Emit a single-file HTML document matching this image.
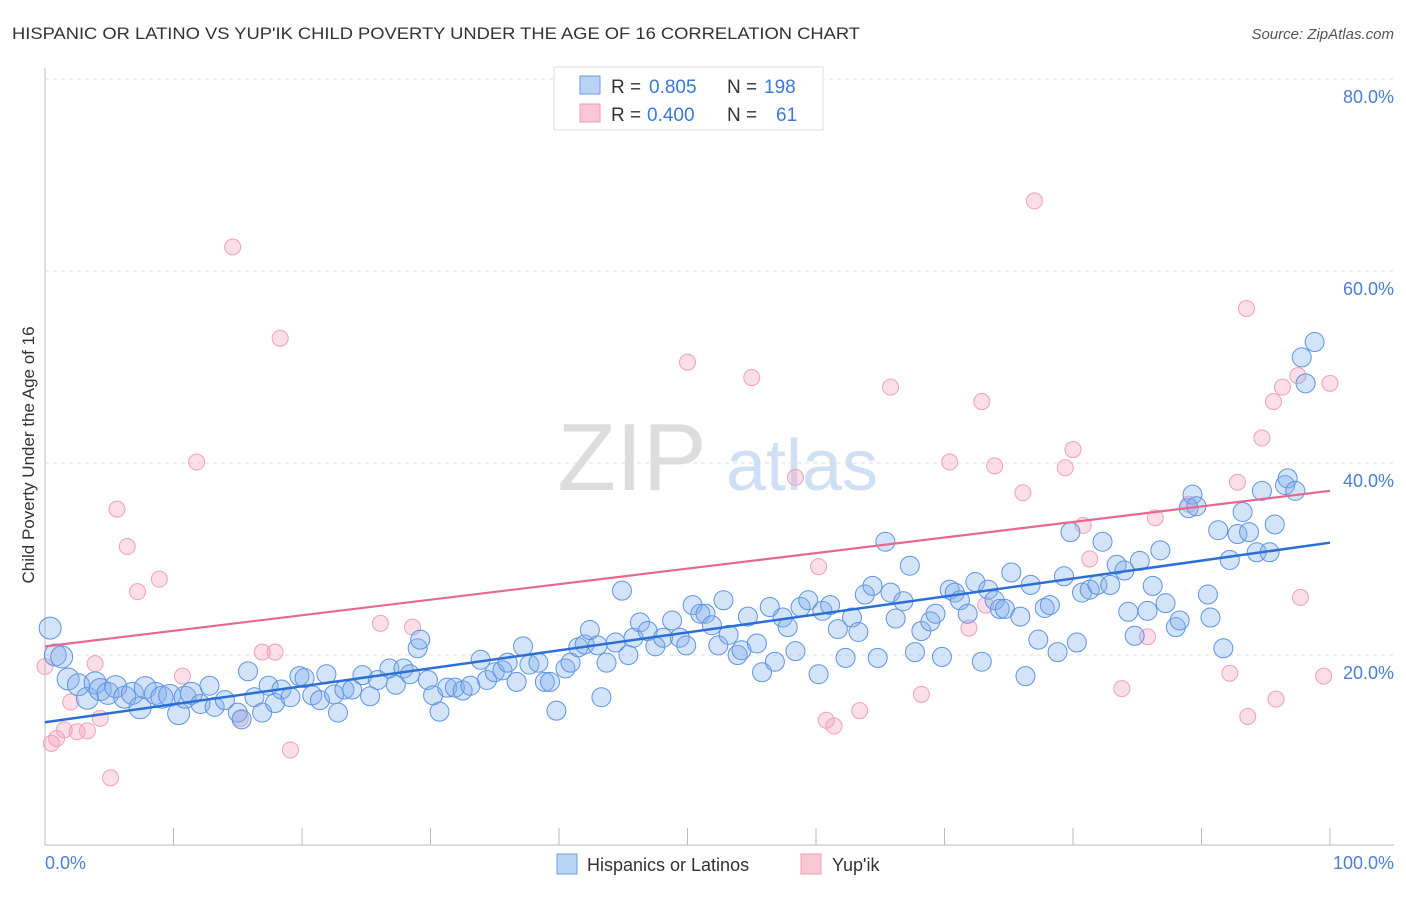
<!DOCTYPE html>
<html><head><meta charset="utf-8"><style>
body{margin:0;background:#fff;font-family:"Liberation Sans",sans-serif}
svg text{font-family:"Liberation Sans",sans-serif}
</style></head><body>
<svg id="chart" width="1406" height="892" viewBox="0 0 1406 892" xmlns="http://www.w3.org/2000/svg">
<text x="12" y="39" font-size="17" fill="#333" textLength="848" lengthAdjust="spacingAndGlyphs">HISPANIC OR LATINO VS YUP'IK CHILD POVERTY UNDER THE AGE OF 16 CORRELATION CHART</text>
<text x="1394" y="39" font-size="15" fill="#555" font-style="italic" text-anchor="end">Source: ZipAtlas.com</text>
<g>
<text x="632" y="490" font-size="96" fill="#ddd" font-family="Liberation Serif" text-anchor="middle">ZIP</text>
<text x="802" y="490" font-size="72" fill="#cfe0f5" text-anchor="middle">atlas</text>
</g>
<g id="grid"></g>
<g id="axes"></g>
<g id="pink-pts"></g>
<g id="blue-pts"></g>
<g id="lines"></g>
<text transform="translate(34,455) rotate(-90)" font-size="17" fill="#333" text-anchor="middle">Child Poverty Under the Age of 16</text>
<text x="45" y="869" font-size="18" fill="#4a7fd8">0.0%</text>
<text x="1394" y="869" font-size="18" fill="#4a7fd8" text-anchor="end">100.0%</text>
<g>
<rect x="554" y="67" width="269" height="63" fill="#fff" stroke="#ddd"/>
<rect x="580" y="76" width="20" height="18" fill="#b9d3f4" stroke="#6b9be0"/>
<rect x="580" y="104" width="20" height="18" fill="#f9c6d4" stroke="#ee9bb4"/>
<text x="611" y="93" font-size="19" fill="#333">R =</text>
<text x="649" y="93" font-size="19" fill="#3a78d6">0.805</text>
<text x="727" y="93" font-size="19" fill="#333">N =</text>
<text x="764" y="93" font-size="19" fill="#3a78d6">198</text>
<text x="611" y="121" font-size="19" fill="#333">R =</text>
<text x="647" y="121" font-size="19" fill="#3a78d6">0.400</text>
<text x="727" y="121" font-size="19" fill="#333">N =</text>
<text x="776" y="121" font-size="19" fill="#3a78d6">61</text>
</g>
<g>
<rect x="557" y="854" width="20" height="20" fill="#b9d3f4" stroke="#6b9be0"/>
<text x="587" y="871" font-size="18" fill="#333">Hispanics or Latinos</text>
<rect x="801" y="854" width="20" height="20" fill="#f9c6d4" stroke="#ee9bb4"/>
<text x="832" y="871" font-size="18" fill="#333">Yup'ik</text>
</g>
</svg>
<script>
const yTicks=[20,40,60,80];
const yTickLabels=["20.0%","40.0%","60.0%","80.0%"];
const xTicks=[0,10,20,30,40,50,60,70,80,90,100];
const blueX=[0.4,0.8,1.3,1.8,2.6,3.3,3.9,4.3,4.9,5.5,6.2,6.8,7.4,7.8,8.6,9.1,9.7,10.4,10.9,11.4,12.1,12.8,13.2,14.0,15.0,15.3,15.8,16.3,16.9,17.4,17.9,18.4,19.1,19.8,20.2,20.8,21.4,21.9,22.5,22.8,23.3,23.9,24.7,25.3,25.9,26.8,27.3,27.9,28.4,29.0,29.2,29.8,30.2,30.7,31.3,31.9,32.5,33.1,33.9,34.4,35.0,35.6,36.0,36.7,37.2,37.7,38.4,38.9,39.3,39.8,40.5,40.9,41.5,42.0,42.4,43.0,43.3,43.7,44.4,44.9,45.4,45.8,46.3,46.9,47.5,48.1,48.8,49.4,49.9,50.4,51.0,51.4,51.9,52.4,52.8,53.2,53.9,54.2,54.7,55.4,55.8,56.4,56.8,57.4,57.8,58.4,58.8,59.4,60.2,60.5,61.1,61.7,62.3,62.8,63.3,63.8,64.4,64.8,65.4,65.8,66.2,66.8,67.3,67.7,68.2,68.9,69.3,69.8,70.4,70.8,71.2,71.8,72.4,72.9,73.4,73.9,74.3,74.7,75.2,75.9,76.3,76.7,77.3,77.8,78.2,78.8,79.3,79.8,80.3,80.7,81.3,81.9,82.3,82.9,83.4,84.0,84.3,84.8,85.2,85.8,86.2,86.8,87.2,88.0,88.3,89.0,89.3,89.6,90.5,90.7,91.3,91.7,92.2,92.8,93.2,93.7,94.3,94.7,95.3,95.7,96.5,96.7,97.3,97.8,98.1,98.8];
const blueY=[22.8,20.0,19.8,17.5,16.9,15.5,17.1,16.4,16.0,16.7,15.6,16.0,14.5,16.6,16.0,15.6,15.8,13.9,15.6,16.0,14.9,16.8,14.6,15.3,14.0,13.3,18.3,15.6,14.0,16.8,15.0,16.4,15.6,17.8,17.6,15.8,15.3,18.0,15.9,14.0,16.4,16.4,17.9,15.7,17.4,18.6,16.9,18.6,18.0,20.7,21.6,17.4,15.8,14.1,16.6,16.6,16.3,16.8,19.5,17.4,18.2,18.4,19.2,17.2,20.9,19.0,19.2,17.2,17.2,14.2,18.6,19.2,20.8,21.1,22.6,21.0,15.6,19.2,21.3,26.7,20.0,21.8,23.4,22.5,20.9,21.8,23.6,21.8,21.0,25.2,24.3,24.3,23.1,21.0,25.7,22.1,20.0,20.5,24.0,21.2,18.2,25.0,19.3,23.9,22.9,20.4,25.0,25.7,18.0,24.6,25.2,22.7,19.7,23.9,22.4,26.3,27.2,19.7,31.8,26.5,23.8,25.6,29.3,20.3,22.5,23.5,24.3,19.8,26.8,26.5,25.7,24.3,27.6,19.3,26.8,25.7,24.8,24.8,28.6,24.0,17.8,27.3,21.6,24.9,25.2,20.3,28.2,32.8,21.3,26.5,26.8,27.3,31.8,27.3,29.4,28.8,24.5,22.0,29.8,24.6,27.2,30.9,25.4,22.9,23.6,35.3,36.7,35.5,26.3,23.9,33.0,20.7,29.9,32.6,34.9,32.8,30.7,37.1,30.7,33.6,37.7,38.4,37.1,51.0,48.3,52.6];
const pinkX=[0,0.5,0.9,1.5,2.0,2.5,3.3,3.9,4.3,5.1,5.6,6.4,7.2,8.9,10.7,11.8,14.6,15.2,16.9,17.9,18.3,19.1,26.1,28.6,50.0,55.0,58.4,60.2,60.8,61.4,63.4,65.8,68.2,70.4,71.9,72.9,73.2,73.9,76.1,77.0,79.4,80.0,80.8,81.3,83.8,85.8,86.4,89.0,92.2,92.8,93.6,93.5,94.7,95.6,95.8,96.3,97.7,97.5,99.5,100];
const pinkY=[18.8,10.8,11.3,12.2,15.1,12.0,12.1,19.1,13.4,7.2,35.2,31.3,26.6,27.9,17.8,40.1,62.5,13.4,20.3,20.3,53.0,10.1,23.3,22.9,50.5,48.9,38.5,29.2,13.2,12.6,14.2,47.9,15.9,40.1,22.8,46.4,25.2,39.7,36.9,67.3,39.5,41.4,33.5,30.0,16.5,21.9,34.3,35.7,18.1,38.0,13.6,56.1,42.6,46.4,15.4,47.9,26.0,49.1,17.8,48.3];
const blueFit=[13.0,31.7];
const pinkFit=[20.9,37.1];

const NS="http://www.w3.org/2000/svg";
const X0=45,X1=1330,Y0=847,PPY=9.6;
function sx(v){return X0+(X1-X0)*v/100;}
function sy(v){return Y0-v*PPY;}
function mk(tag,attrs,parent){const e=document.createElementNS(NS,tag);for(const k in attrs)e.setAttribute(k,attrs[k]);parent.appendChild(e);return e;}
const grid=document.getElementById('grid');
yTicks.forEach((t,i)=>{
  const l=mk('line',{x1:X0,x2:1394,y1:sy(t),y2:sy(t),stroke:'#ddd','stroke-dasharray':'4,4'},grid);
  
  
  const tx=mk('text',{x:1394,y:sy(t)+24,'font-size':18,fill:'#4a7fd8','text-anchor':'end'},grid);
  tx.textContent=yTickLabels[i];
  
  
});
const tl=mk('line',{x1:X0,x2:1394,y1:79,y2:79,stroke:'#ddd','stroke-dasharray':'4,4'},grid);


const axes=document.getElementById('axes');
const ya=mk('line',{x1:X0,x2:X0,y1:68,y2:845,stroke:'#bbb'},axes);


const xa=mk('line',{x1:X0,x2:1394,y1:845,y2:845,stroke:'#bbb'},axes);


xTicks.forEach(t=>{
  const k=mk('line',{x1:sx(t),x2:sx(t),y1:828,y2:845,stroke:'#bbb'},axes);
  
  
});
const pg=document.getElementById('pink-pts');
pinkX.forEach((x,i)=>{
  const c=mk('circle',{cx:sx(x),cy:sy(pinkY[i]),r:8,fill:'rgba(244,160,186,0.35)',stroke:'#f0a0b8','stroke-width':1},pg);
  
  
});
const bg=document.getElementById('blue-pts');
blueX.forEach((x,i)=>{
  const c=mk('circle',{cx:sx(x),cy:sy(blueY[i]),r:x<12?11:9.5,fill:'rgba(130,175,235,0.35)',stroke:'#5e94e2','stroke-width':1},bg);
  
  
});
const lg=document.getElementById('lines');
const pl=mk('line',{x1:sx(0),x2:sx(100),y1:sy(pinkFit[0]),y2:sy(pinkFit[1]),stroke:'#e8678f','stroke-width':2.2},lg);


const bl=mk('line',{x1:sx(0),x2:sx(100),y1:sy(blueFit[0]),y2:sy(blueFit[1]),stroke:'#2a6fd6','stroke-width':2.5},lg);


</script>
</body></html>
